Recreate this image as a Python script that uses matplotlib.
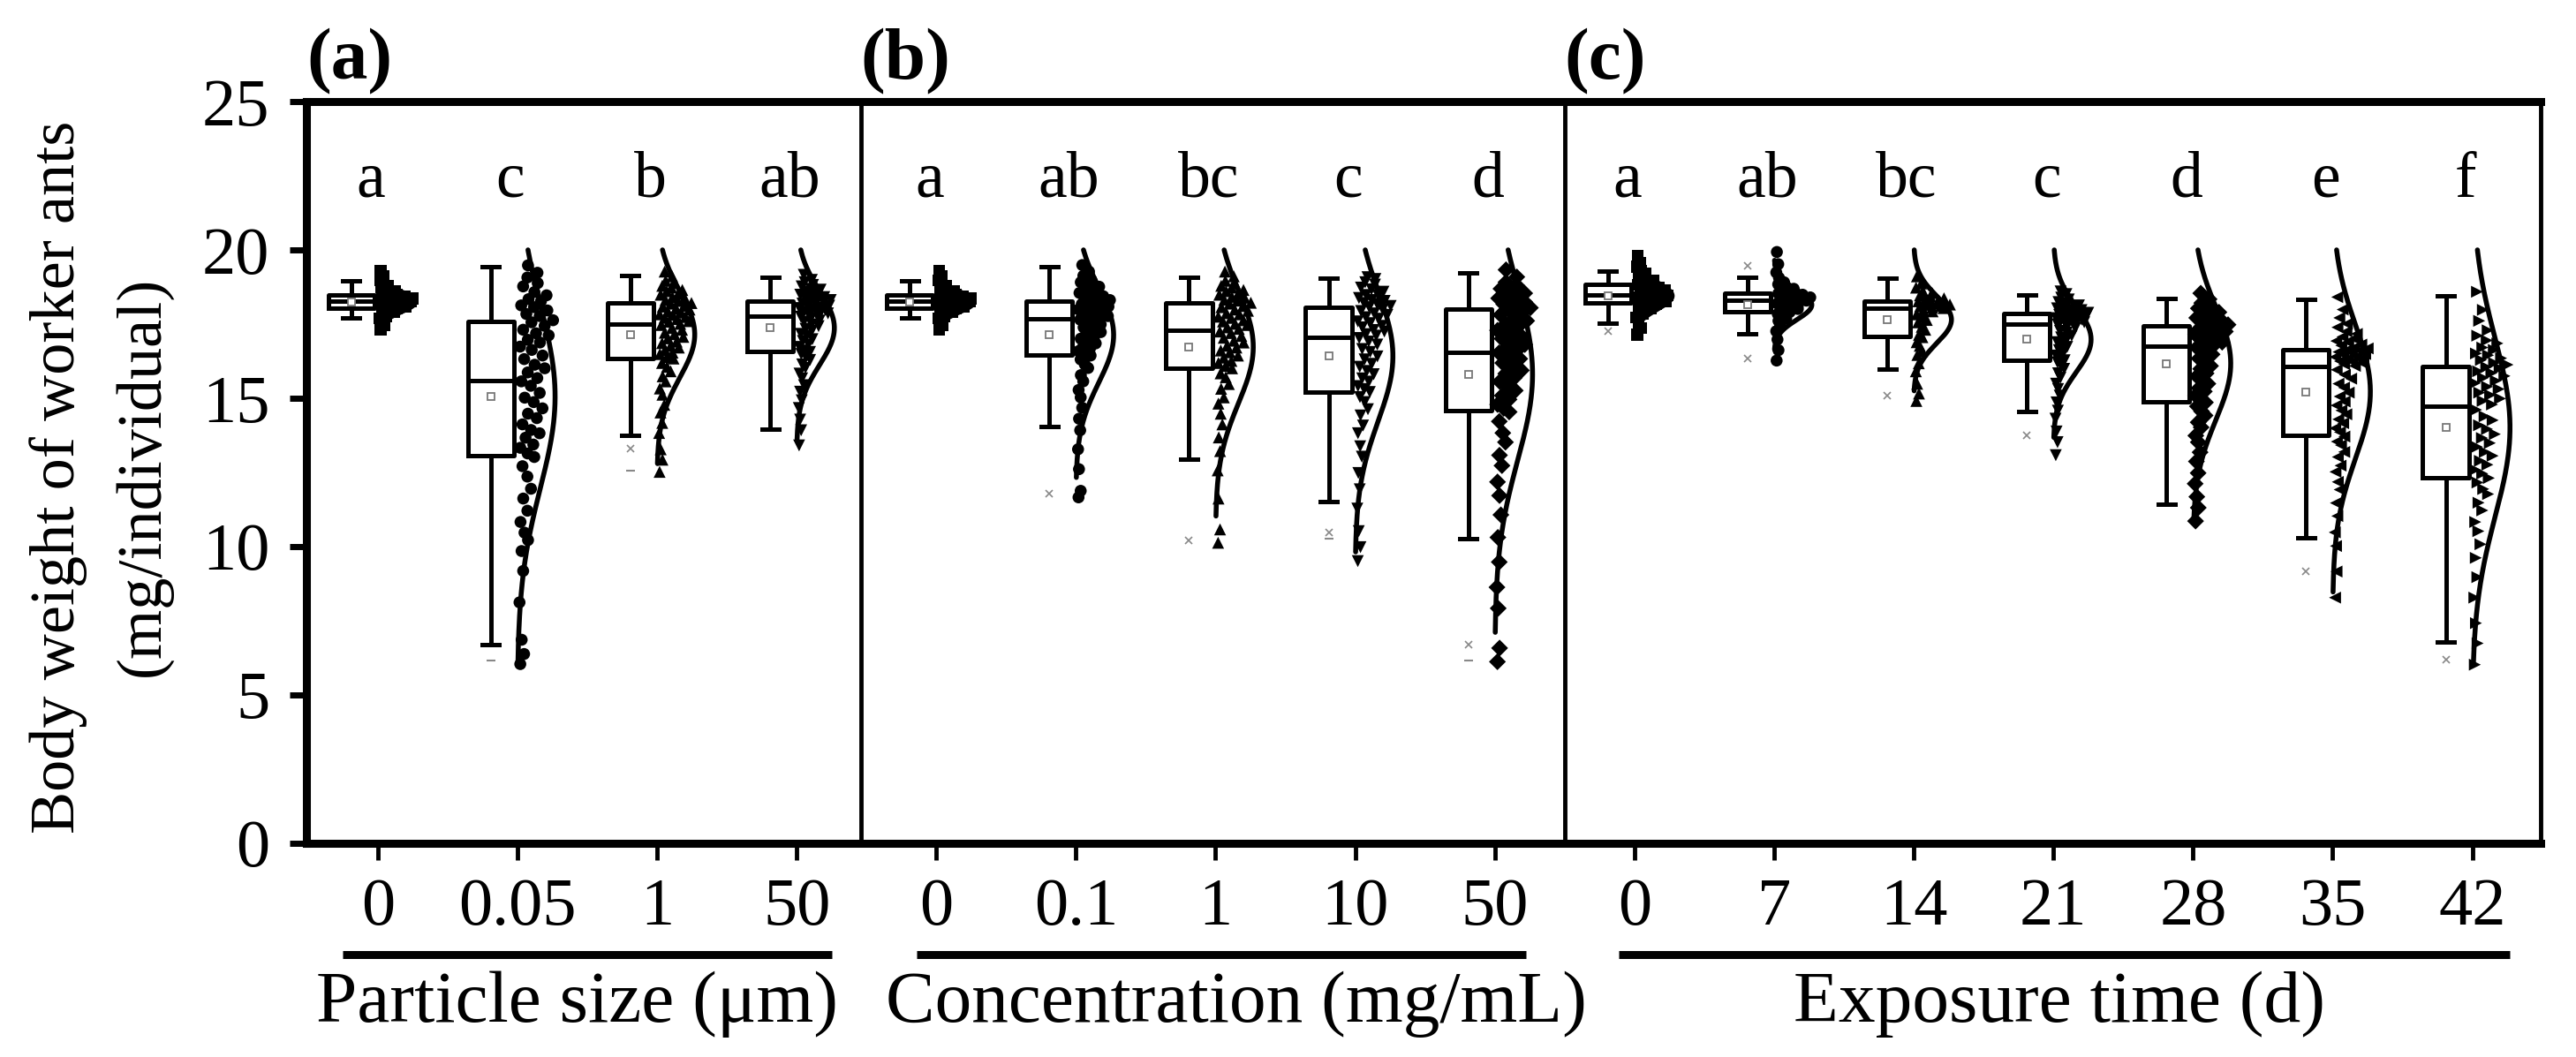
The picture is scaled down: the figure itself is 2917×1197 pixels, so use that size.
import numpy as np
import matplotlib
matplotlib.use("Agg")
import matplotlib.pyplot as plt
from matplotlib.transforms import blended_transform_factory

plt.rcParams['font.family'] = ['Liberation Serif', 'DejaVu Serif']

# categories / labels
tick_labels = ['0', '0.05', '1', '50',
               '0', '0.1', '1', '10', '50',
               '0', '7', '14', '21', '28', '35', '42']
letters = ['a', 'c', 'b', 'ab',
           'a', 'ab', 'bc', 'c', 'd',
           'a', 'ab', 'bc', 'c', 'd', 'e', 'f']
panel_names = ['(a)', '(b)', '(c)']
group_titles = ['Particle size (\u03bcm)', 'Concentration (mg/mL)', 'Exposure time (d)']
markers = ['s', 'o', '^', 'v',
           's', 'o', '^', 'v', 'D',
           's', 'o', '^', 'v', 'D', '<', '>']

# box statistics (mg/individual)
whislo = [17.70, 6.70, 13.74, 13.96, 17.70, 14.05, 12.94, 11.53, 10.27, 17.52, 17.16, 15.98, 14.54, 11.44, 10.30, 6.79]
q1 = [18.05, 13.07, 16.35, 16.57, 18.05, 16.47, 16.02, 15.22, 14.58, 18.20, 17.92, 17.09, 16.29, 14.89, 13.74, 12.33]
med = [18.27, 15.61, 17.50, 17.78, 18.27, 17.68, 17.29, 17.06, 16.55, 18.48, 18.30, 18.05, 17.50, 16.76, 16.06, 14.73]
q3 = [18.48, 17.58, 18.20, 18.27, 18.48, 18.27, 18.20, 18.08, 18.02, 18.85, 18.54, 18.27, 17.86, 17.43, 16.63, 16.08]
whishi = [18.97, 19.43, 19.13, 19.09, 18.97, 19.44, 19.09, 19.06, 19.24, 19.28, 19.09, 19.06, 18.48, 18.36, 18.32, 18.45]
means = [18.25, 15.06, 17.15, 17.37, 18.25, 17.13, 16.73, 16.42, 15.81, 18.45, 18.15, 17.65, 16.98, 16.17, 15.22, 14.01]
sds = [0.35, 3.1, 1.45, 1.25, 0.35, 1.6, 1.9, 2.2, 2.9, 0.45, 0.5, 0.8, 1.1, 1.9, 2.25, 3.0]
pct_marks = [[], [], [13.31], [], [], [11.78], [10.21], [10.48], [6.71],
             [17.27], [19.46, 16.35], [15.1], [13.74], [], [9.17], [6.2]]
minmax_marks = [[], [6.15], [12.55], [], [], [], [], [10.26], [6.15],
                [], [], [], [], [], [], []]

# individual ants (estimated from the scatter)
pts_ctrl = [17.31, 17.45, 17.58, 17.69, 17.77, 17.86, 17.92, 17.96, 18.01, 18.04,
            18.06, 18.08, 18.12, 18.15, 18.16, 18.19, 18.22, 18.23, 18.25, 18.27,
            18.28, 18.31, 18.33, 18.34, 18.37, 18.4, 18.41, 18.44, 18.45, 18.47,
            18.5, 18.54, 18.61, 18.65, 18.73, 18.79, 18.9, 18.98, 19.12, 19.29]
pts_a1 = [6.04, 6.38, 6.86, 8.12, 9.18, 9.85, 10.22, 10.47, 10.83, 11.21, 11.62, 11.95, 12.36, 12.71, 13.02,
          13.14, 13.33, 13.44, 13.67, 13.82, 13.93, 14.12, 14.33, 14.48, 14.66, 14.87, 15.02, 15.18, 15.42, 15.57,
          15.68, 15.87, 16.01, 16.13, 16.32, 16.44, 16.63, 16.74, 16.88, 16.97, 17.12, 17.19, 17.31, 17.44, 17.56,
          17.63, 17.77, 17.84, 17.96, 18.07, 18.13, 18.27, 18.34, 18.47, 18.58, 18.77, 18.88, 19.07, 19.23, 19.48]
pts_a2 = [12.52, 12.93, 13.28, 13.83, 14.17, 14.52, 14.78, 15.12, 15.33, 15.57, 15.74, 15.91, 16.06, 16.19, 16.34,
          16.39, 16.49, 16.54, 16.63, 16.71, 16.77, 16.86, 16.91, 17.02, 17.07, 17.16, 17.21, 17.31, 17.37, 17.47,
          17.51, 17.58, 17.6, 17.67, 17.71, 17.74, 17.81, 17.83, 17.89, 17.92, 17.99, 18.02, 18.09, 18.12, 18.19,
          18.21, 18.28, 18.31, 18.38, 18.41, 18.49, 18.52, 18.61, 18.65, 18.73, 18.79, 18.89, 18.96, 19.11, 19.27]
pts_a3 = [13.41, 13.92, 14.28, 14.67, 14.93, 15.22, 15.44, 15.67, 15.83, 16.02, 16.14, 16.29, 16.38, 16.49, 16.56,
          16.61, 16.73, 16.81, 16.93, 16.99, 17.11, 17.17, 17.28, 17.34, 17.43, 17.49, 17.58, 17.62, 17.71, 17.75,
          17.79, 17.84, 17.86, 17.91, 17.92, 17.98, 18.0, 18.04, 18.05, 18.11, 18.12, 18.17, 18.19, 18.24, 18.26,
          18.31, 18.33, 18.39, 18.41, 18.47, 18.49, 18.56, 18.59, 18.66, 18.69, 18.77, 18.82, 18.91, 18.99, 19.16]
pts_b1 = [11.66, 11.88, 12.61, 13.28, 13.92, 14.31, 14.68, 15.03, 15.28, 15.57, 15.78, 16.02, 16.14, 16.31, 16.44,
          16.53, 16.59, 16.69, 16.75, 16.85, 16.91, 17.01, 17.07, 17.17, 17.23, 17.33, 17.39, 17.49, 17.55, 17.65,
          17.69, 17.75, 17.77, 17.83, 17.85, 17.91, 17.93, 17.99, 18.01, 18.07, 18.09, 18.15, 18.17, 18.23, 18.25,
          18.31, 18.34, 18.41, 18.44, 18.51, 18.55, 18.63, 18.67, 18.76, 18.81, 18.91, 18.99, 19.13, 19.27, 19.49]
pts_b2 = [10.13, 10.58, 11.62, 12.57, 13.22, 13.68, 14.12, 14.48, 14.82, 15.03, 15.32, 15.48, 15.71, 15.84, 16.01,
          16.09, 16.19, 16.26, 16.37, 16.44, 16.55, 16.61, 16.71, 16.77, 16.88, 16.94, 17.04, 17.1, 17.2, 17.25,
          17.34, 17.39, 17.47, 17.51, 17.59, 17.63, 17.71, 17.75, 17.83, 17.87, 17.95, 17.99, 18.07, 18.11, 18.19,
          18.22, 18.29, 18.32, 18.39, 18.42, 18.49, 18.53, 18.61, 18.65, 18.73, 18.79, 18.89, 18.96, 19.11, 19.27]
pts_b3 = [9.51, 9.98, 10.52, 11.28, 11.93, 12.48, 13.03, 13.38, 13.82, 14.08, 14.42, 14.63, 14.87, 15.04, 15.21,
          15.31, 15.41, 15.56, 15.67, 15.81, 15.92, 16.06, 16.16, 16.31, 16.41, 16.56, 16.66, 16.81, 16.91, 17.03,
          17.11, 17.16, 17.25, 17.3, 17.39, 17.44, 17.53, 17.59, 17.68, 17.73, 17.81, 17.86, 17.94, 17.99, 18.07,
          18.11, 18.18, 18.21, 18.28, 18.31, 18.38, 18.46, 18.48, 18.59, 18.67, 18.73, 18.83, 18.91, 19.02, 19.08]
pts_b4 = [6.12, 6.58, 7.92, 8.63, 9.48, 10.31, 11.07, 11.72, 12.18, 12.73, 13.08, 13.52, 13.83, 14.22, 14.54,
          14.66, 14.79, 14.96, 15.09, 15.26, 15.39, 15.56, 15.69, 15.83, 15.94, 16.09, 16.19, 16.33, 16.42, 16.53,
          16.61, 16.69, 16.81, 16.89, 17.01, 17.09, 17.21, 17.29, 17.41, 17.49, 17.61, 17.69, 17.81, 17.89, 17.99,
          18.05, 18.13, 18.17, 18.25, 18.29, 18.37, 18.41, 18.49, 18.54, 18.63, 18.69, 18.81, 18.91, 19.09, 19.33]
pts_c0 = [17.14, 17.36, 17.54, 17.73, 17.84, 17.96, 18.02, 18.1, 18.13, 18.19,
          18.21, 18.26, 18.27, 18.32, 18.33, 18.38, 18.39, 18.43, 18.44, 18.47,
          18.51, 18.52, 18.58, 18.59, 18.65, 18.66, 18.72, 18.74, 18.8, 18.83,
          18.87, 18.94, 18.98, 19.06, 19.11, 19.21, 19.29, 19.43, 19.57, 19.81]
pts_c1 = [16.27, 16.62, 16.98, 17.26, 17.44, 17.61, 17.69, 17.79, 17.84, 17.91,
          17.94, 18.01, 18.03, 18.09, 18.11, 18.17, 18.19, 18.24, 18.25, 18.29,
          18.31, 18.35, 18.36, 18.39, 18.4, 18.44, 18.45, 18.49, 18.5, 18.53,
          18.58, 18.61, 18.69, 18.74, 18.84, 18.91, 19.06, 19.24, 19.52, 19.93]
pts_c2 = [14.91, 15.16, 15.49, 15.91, 16.18, 16.46, 16.59, 16.77, 16.89, 17.06,
          17.14, 17.31, 17.41, 17.56, 17.64, 17.76, 17.83, 17.93, 17.97, 18.04,
          18.06, 18.1, 18.11, 18.15, 18.16, 18.19, 18.2, 18.23, 18.24, 18.27,
          18.29, 18.35, 18.37, 18.44, 18.47, 18.55, 18.61, 18.73, 18.87, 19.11]
pts_c3 = [13.08, 13.52, 13.88, 14.31, 14.58, 14.86, 15.09, 15.31, 15.49, 15.69, 15.84, 15.99, 16.09, 16.21, 16.28,
          16.37, 16.44, 16.55, 16.62, 16.73, 16.79, 16.89, 16.95, 17.05, 17.11, 17.21, 17.27, 17.36, 17.41, 17.49,
          17.52, 17.55, 17.56, 17.6, 17.61, 17.65, 17.66, 17.7, 17.71, 17.75, 17.76, 17.8, 17.81, 17.84, 17.85,
          17.88, 17.91, 17.92, 17.97, 17.98, 18.03, 18.05, 18.11, 18.13, 18.2, 18.24, 18.33, 18.39, 18.51, 18.6]
pts_c4 = [10.86, 11.31, 11.68, 12.12, 12.48, 12.87, 13.18, 13.52, 13.74, 14.02, 14.19, 14.42, 14.56, 14.73, 14.86,
          14.99, 15.09, 15.23, 15.34, 15.49, 15.59, 15.74, 15.84, 15.99, 16.09, 16.23, 16.34, 16.48, 16.57, 16.71,
          16.79, 16.86, 16.89, 16.96, 16.99, 17.06, 17.09, 17.15, 17.17, 17.23, 17.25, 17.31, 17.33, 17.39, 17.41,
          17.48, 17.51, 17.58, 17.61, 17.68, 17.71, 17.78, 17.82, 17.9, 17.94, 18.03, 18.09, 18.21, 18.34, 18.54]
pts_c5 = [8.28, 9.16, 10.02, 10.48, 11.03, 11.47, 11.92, 12.18, 12.52, 12.73, 13.02, 13.19, 13.42, 13.54, 13.71,
          13.86, 13.99, 14.16, 14.29, 14.46, 14.59, 14.76, 14.89, 15.06, 15.19, 15.36, 15.49, 15.66, 15.79, 15.96,
          16.09, 16.15, 16.17, 16.23, 16.25, 16.31, 16.33, 16.39, 16.41, 16.47, 16.49, 16.55, 16.56, 16.61, 16.62,
          16.68, 16.71, 16.78, 16.81, 16.89, 16.93, 17.01, 17.07, 17.17, 17.25, 17.39, 17.51, 17.71, 17.99, 18.41]
pts_c6 = [6.02, 6.74, 7.42, 8.28, 8.97, 9.62, 10.08, 10.52, 10.83, 11.22, 11.48, 11.77, 11.94, 12.16, 12.31,
          12.46, 12.59, 12.76, 12.89, 13.06, 13.19, 13.36, 13.49, 13.66, 13.79, 13.96, 14.09, 14.26, 14.39, 14.61,
          14.79, 14.91, 14.99, 15.11, 15.19, 15.31, 15.39, 15.51, 15.59, 15.69, 15.75, 15.85, 15.91, 16.01, 16.05,
          16.13, 16.19, 16.29, 16.35, 16.45, 16.51, 16.63, 16.71, 16.85, 16.95, 17.11, 17.29, 17.61, 17.98, 18.59]

points = [pts_ctrl, pts_a1, pts_a2, pts_a3,
          pts_ctrl, pts_b1, pts_b2, pts_b3, pts_b4,
          pts_c0, pts_c1, pts_c2, pts_c3, pts_c4, pts_c5, pts_c6]

xpos = np.arange(len(tick_labels))
box_off = -0.19
half_w = 0.27  # max width of half distribution

fig = plt.figure(figsize=(29.17, 11.97), dpi=100)
ax = fig.add_axes([0.119, 0.2022, 0.8673, 0.7017])

# boxes
stats = []
for i in range(len(xpos)):
    stats.append(dict(med=med[i], q1=q1[i], q3=q3[i], whislo=whislo[i], whishi=whishi[i], fliers=[]))
lw = 3.6
ax.bxp(stats, positions=xpos + box_off, widths=0.33, capwidths=0.12, showfliers=False,
       boxprops=dict(color='black', linewidth=lw),
       whiskerprops=dict(color='black', linewidth=lw),
       capprops=dict(color='black', linewidth=lw),
       medianprops=dict(color='black', linewidth=lw), manage_ticks=False, zorder=2)

for i, x in enumerate(xpos):
    bx = x + box_off
    ax.plot(bx, means[i], marker='s', ms=6, mfc='white', mec='#777777', mew=1.3, zorder=3)
    for v in pct_marks[i]:
        ax.plot(bx, v, marker='x', ms=6, color='#888888', mew=1.2, zorder=3)
    for v in minmax_marks[i]:
        ax.plot(bx, v, marker='_', ms=7, color='#888888', mew=1.5, zorder=3)

    # points spread by their local density (half distribution)
    y = np.sort(np.array(points[i]))
    bw = max(0.12, 0.22 * y.std())
    dens = np.exp(-0.5 * ((y[:, None] - y[None, :]) / bw) ** 2).sum(axis=1)
    dens = dens / dens.max()
    u = (np.arange(len(y)) * 0.618034 + 0.15) % 1.0
    px = x + 0.015 + u * (half_w - 0.02) * dens
    ax.scatter(px, y, marker=markers[i], s=95, color='black', edgecolors='none', zorder=4)

    # fitted normal curve
    lo = max(y.min(), means[i] - 3 * sds[i])
    hi = min(20.0, means[i] + 3 * sds[i])
    yy = np.linspace(lo, hi, 200)
    cx = x + half_w * np.exp(-0.5 * ((yy - means[i]) / sds[i]) ** 2)
    ax.plot(cx, yy, color='black', lw=4, zorder=5, solid_capstyle='round')

    ax.text(x - 0.05, 21.8, letters[i], ha='center', va='baseline', fontsize=53)

ax.set_xlim(-0.51, 15.49)
ax.set_ylim(0, 25)
ax.set_yticks([0, 5, 10, 15, 20, 25])
ax.set_xticks(xpos)
ax.set_xticklabels(tick_labels)
ax.tick_params(axis='both', direction='out', labelsize=55, width=5, length=14)
ax.tick_params(axis='x', pad=14, width=3.5)
ax.tick_params(axis='y', pad=16)

for side in ['left', 'top', 'bottom']:
    ax.spines[side].set_linewidth(6.5)
ax.spines['right'].set_linewidth(3.5)

dividers = [3.46, 8.5]
for d in dividers:
    ax.axvline(d, color='black', lw=3.5, zorder=6)

trans = blended_transform_factory(ax.transData, fig.transFigure)
panel_left = [-0.51, 3.46, 8.5]
for name, xl in zip(panel_names, panel_left):
    ax.text(xl, 0.942, name, transform=trans, ha='left', va='center',
            fontsize=60, fontweight='bold', clip_on=False)

bar_ranges = [(-0.253, 3.253), (3.86, 8.22), (8.89, 15.27)]
title_x = [1.43, 6.15, 12.04]
for (x0, x1), tx, title in zip(bar_ranges, title_x, group_titles):
    ax.plot([x0, x1], [0.0973, 0.0973], transform=trans, color='black', lw=6.5,
            solid_capstyle='butt', clip_on=False)
    ax.text(tx, 0.0334, title, transform=trans, ha='center', va='baseline',
            fontsize=60, clip_on=False)

fig.text(0.0225, 0.549, 'Body weight of worker ants', rotation=90, ha='center', va='center', fontsize=52)
fig.text(0.0555, 0.549, '(mg/individual)', rotation=90, ha='center', va='center', fontsize=52)

fig.savefig('out.png', dpi=100)
